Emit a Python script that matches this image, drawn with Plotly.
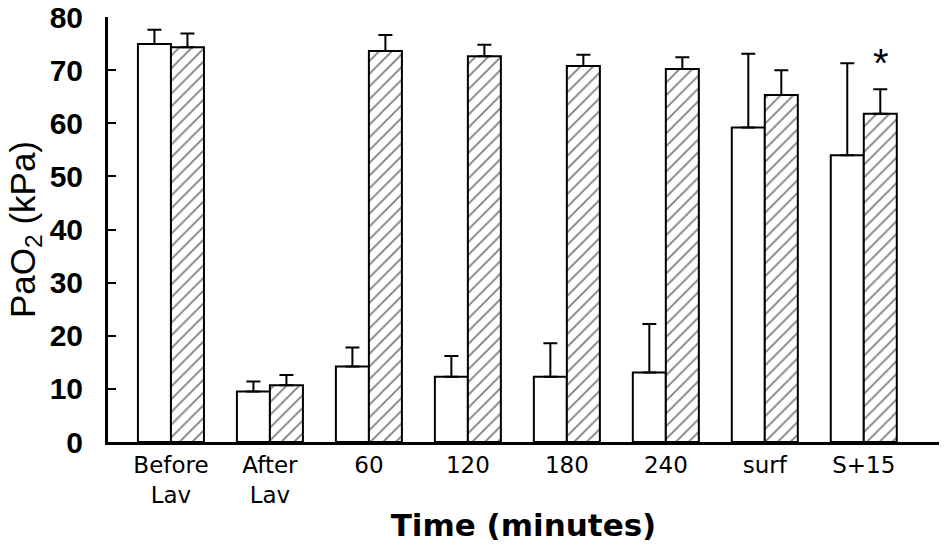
import plotly.graph_objects as go

categories = ["Before<br>Lav", "After<br>Lav", "60", "120", "180", "240", "surf", "S+15"]
control_mean = [74.9, 9.5, 14.2, 12.3, 12.3, 13.1, 59.2, 54.0]
control_err = [2.7, 1.9, 3.6, 3.9, 6.3, 9.1, 13.9, 17.3]
treated_mean = [74.3, 10.7, 73.6, 72.6, 70.8, 70.2, 65.3, 61.8]
treated_err = [2.6, 1.9, 3.0, 2.2, 2.1, 2.2, 4.7, 4.6]
y_ticks = [0, 10, 20, 30, 40, 50, 60, 70, 80]
star_category = "S+15"
star_y = 72.3

fig = go.Figure()
fig.add_trace(go.Bar(
    x=categories, y=control_mean,
    marker=dict(color="white", line=dict(color="black", width=2)),
    error_y=dict(type="data", array=control_err, arrayminus=[0] * len(control_err),
                 symmetric=False, color="black", thickness=2, width=7),
    showlegend=False,
))
fig.add_trace(go.Bar(
    x=categories, y=treated_mean,
    marker=dict(color="white", line=dict(color="black", width=2),
                pattern=dict(shape="/", fgcolor="black", bgcolor="white", size=9, solidity=0.2)),
    error_y=dict(type="data", array=treated_err, arrayminus=[0] * len(treated_err),
                 symmetric=False, color="black", thickness=2, width=7),
    showlegend=False,
))

fig.add_annotation(x=star_category, y=star_y, text="*", showarrow=False,
                   xshift=17, yshift=-5,
                   font=dict(family="Liberation Sans, Arial", size=40, color="black"))

fig.update_layout(
    width=944, height=549,
    margin=dict(l=108, r=5, t=17, b=107),
    paper_bgcolor="white", plot_bgcolor="white",
    barmode="group", bargap=0.333, bargroupgap=0,
    showlegend=False,
    xaxis=dict(
        type="category", range=[-0.636, 7.76],
        showline=True, linecolor="black", linewidth=3,
        showgrid=False, zeroline=False, ticks="",
        tickfont=dict(family="DejaVu Sans", size=23, color="black"),
        title=dict(text="Time (minutes)", standoff=8,
                   font=dict(family="DejaVu Sans", size=31, color="black", weight="bold")),
        automargin=False,
    ),
    yaxis=dict(
        range=[0, 80], tickvals=y_ticks,
        showline=True, linecolor="black", linewidth=3,
        showgrid=False, zeroline=False,
        ticks="inside", ticklen=8, tickwidth=1.5, tickcolor="black",
        ticklabelstandoff=16,
        tickfont=dict(family="Liberation Sans, Arial", size=30, color="black", weight="bold"),
        title=dict(text="PaO<sub>2</sub> (kPa)", standoff=4,
                   font=dict(family="Liberation Sans, Arial", size=35, color="black")),
        automargin=False,
    ),
)

fig.write_html("out.html")
